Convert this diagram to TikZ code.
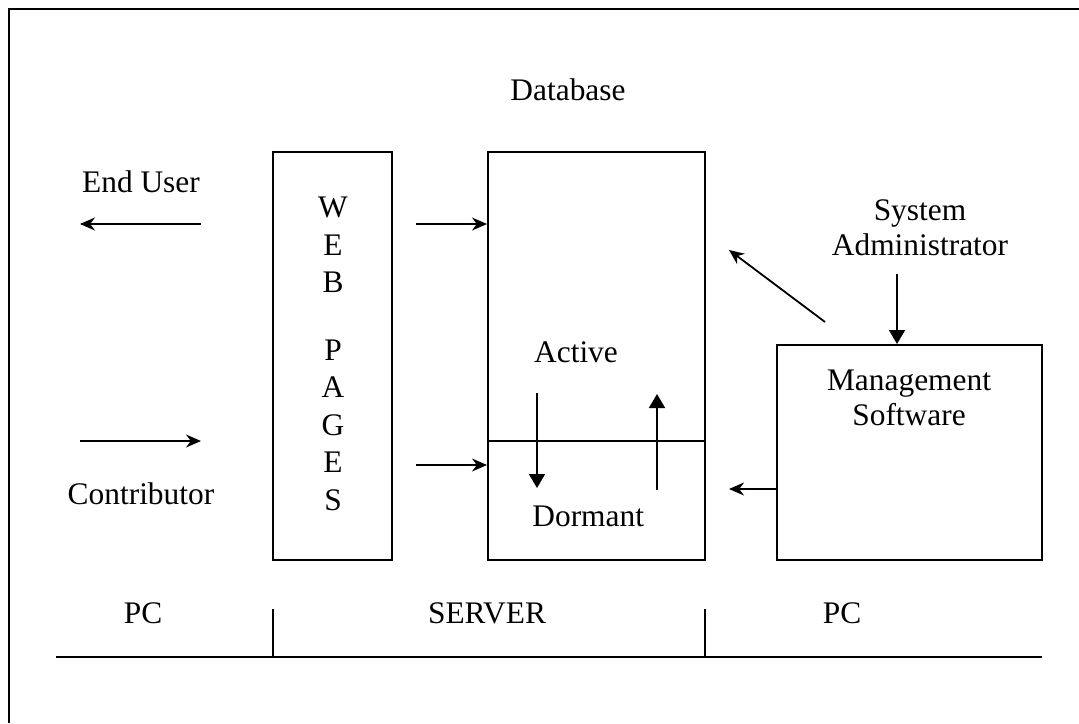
\documentclass[tikz,border=0pt]{standalone}
\usepackage{fontspec}
\setmainfont{Liberation Serif}
\usetikzlibrary{arrows.meta,positioning}
\tikzstyle{box}=[draw,line width=1pt,inner sep=0pt]
\tikzstyle{flow}=[line width=0.9pt,-{Stealth[length=7.5pt,width=6.5pt]}]
\tikzstyle{swap}=[line width=0.9pt,-{Triangle[length=7pt,width=8pt]}]
\tikzstyle{lbl}=[font=\fontsize{15.7}{17.5}\selectfont,align=center,inner sep=0pt]

\begin{document}
\begin{tikzpicture}[x=0.5pt,y=-0.5pt]
          \useasboundingbox (0,0) rectangle (1079,723);
          \draw[line width=1pt] (9,723) -- (9,9) -- (1079,9);

          % boxes
          \node[box,minimum width=59.5pt,minimum height=204pt] (web) at (332.5,356) {};
          \node[box,minimum width=108.5pt,minimum height=204pt] (db) at (596.5,356) {};
          \node[box,minimum width=132.5pt,minimum height=107.5pt] (mgmt) at (909.5,452.5) {};
          \coordinate (split) at (488,441);
          \draw[line width=0.9pt] (split) -- (split -| db.east);

          % labels
          \node[lbl] (dbname) at (568,90) {Database};
          \node[lbl] (enduser) at (141,182) {End User};
          \node[lbl] (contrib) at (141,494) {Contributor};
          \node[lbl] (active) at (576,352) {Active};
          \node[lbl,anchor=west] (dormant) at (532,516) {Dormant};
          \node[lbl] (admin) at (920,228) {System\\Administrator};
          \node[lbl] (mgmtname) at (909,398) {Management\\Software};
          \node[lbl,font=\fontsize{15.7}{18.75}\selectfont] (webname) at (333,354)
               {W\\E\\B\\[15pt]P\\A\\G\\E\\S};

          % arrows
          \coordinate (eu1) at (201,224);
          \coordinate (eu2) at (80,224);
          \draw[flow] (eu1) -- (eu2);
          \coordinate (c1) at (80,441);
          \coordinate (c2) at (201,441);
          \draw[flow] (c1) -- (c2);
          \coordinate (w1) at (416,224);
          \draw[flow] (w1) -- (w1 -| db.west);
          \coordinate (w2) at (416,465);
          \draw[flow] (w2) -- (w2 -| db.west);
          \coordinate (dn1) at (537,393);
          \coordinate (dn2) at (537,488);
          \draw[swap] (dn1) -- (dn2);
          \coordinate (up1) at (657,490);
          \coordinate (up2) at (657,394);
          \draw[swap] (up1) -- (up2);
          \coordinate (ad) at (897,274);
          \draw[swap] (ad) -- (ad |- mgmt.north);
          \coordinate (dg1) at (825,322);
          \coordinate (dg2) at (729,250);
          \draw[flow] (dg1) -- (dg2);
          \coordinate (ms) at (729,489);
          \draw[flow] (ms -| mgmt.west) -- (ms);

          % bottom scale
          \coordinate (b1) at (56,657);
          \coordinate (b2) at (1042,657);
          \coordinate (t1) at (273,609);
          \coordinate (t2) at (705,609);
          \draw[line width=1pt] (b1) -- (b2);
          \draw[line width=0.6pt] (t1) -- (t1 |- b1);
          \draw[line width=0.6pt] (t2) -- (t2 |- b1);
          \node[lbl] (pcleft) at (143,613) {PC};
          \node[lbl] (server) at (487,613) {SERVER};
          \node[lbl] (pcright) at (842,613) {PC};
        \end{tikzpicture}
\end{document}
